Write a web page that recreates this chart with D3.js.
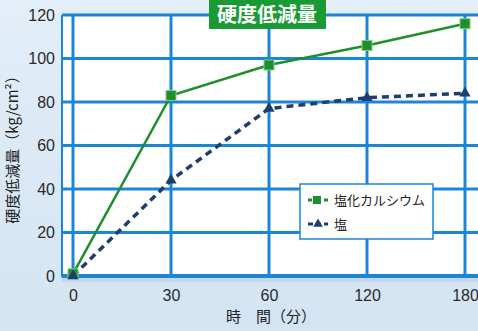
<!DOCTYPE html>
<html>
<head>
<meta charset="utf-8">
<script src="https://cdn.jsdelivr.net/npm/d3@7"></script>
<style>
  body { margin: 0; }
  svg { display: block; font-family: "Noto Sans CJK JP", "Noto Sans", sans-serif; }
</style>
</head>
<body>
<div id="container"></div>
<script>
/* CONSTANTS AND GLOBALS */
const width = 478, height = 331;
const margin = { top: 15, right: 0, bottom: 55, left: 62 };

/* DATA */
const times = ["0", "30", "60", "120", "180"];
const calcium = [1, 83, 97, 106, 116];
const salt = [0, 44, 77, 82, 84];
const yTicks = [0, 20, 40, 60, 80, 100, 120];
const seriesNames = ["塩化カルシウム", "塩"];

const svg = d3.select("#container").append("svg")
  .attr("width", width).attr("height", height);

// background
const defs = svg.append("defs");
const bg = defs.append("linearGradient").attr("id", "bg")
  .attr("x1", 0).attr("y1", 0).attr("x2", 0).attr("y2", 1);
bg.append("stop").attr("offset", "0%").attr("stop-color", "#e3eef8");
bg.append("stop").attr("offset", "100%").attr("stop-color", "#d3e4f3");
svg.append("rect").attr("width", width).attr("height", height).attr("fill", "url(#bg)");

// SCALES
const xScale = d3.scalePoint()
  .domain(times)
  .range([73, 465]);

const yScale = d3.scaleLinear()
  .domain([0, 120])
  .range([276, 15]);

// plot area (with soft shadow)
svg.append("rect")
  .attr("x", margin.left).attr("y", 15)
  .attr("width", width - margin.left).attr("height", 276 - 15 + 3)
  .attr("fill", "#b9cfe2").attr("opacity", 0.6)
  .attr("transform", "translate(0,3)");
svg.append("rect")
  .attr("x", margin.left).attr("y", 15)
  .attr("width", width - margin.left).attr("height", 276 - 15)
  .attr("fill", "#fff");

const gridColor = "#1b86d8";

// GRID
svg.append("g").selectAll("line.h")
  .data(yTicks)
  .join("line")
  .attr("x1", margin.left).attr("x2", width)
  .attr("y1", d => yScale(d)).attr("y2", d => yScale(d))
  .attr("stroke", gridColor)
  .attr("stroke-width", d => d === 0 ? 4 : 3);

svg.append("g").selectAll("line.v")
  .data(times)
  .join("line")
  .attr("x1", d => xScale(d)).attr("x2", d => xScale(d))
  .attr("y1", 15).attr("y2", 276)
  .attr("stroke", gridColor).attr("stroke-width", 3);

svg.append("line")
  .attr("x1", margin.left).attr("x2", margin.left)
  .attr("y1", 15).attr("y2", 277)
  .attr("stroke", gridColor).attr("stroke-width", 2);

// AXES
const yAxis = d3.axisLeft(yScale).tickValues(yTicks).tickSize(0).tickPadding(7);
const xAxis = d3.axisBottom(xScale).tickSize(0).tickPadding(14);

const gy = svg.append("g").attr("transform", `translate(${margin.left},0)`).call(yAxis);
const gx = svg.append("g").attr("transform", `translate(0,276)`).call(xAxis);
[gy, gx].forEach(g => {
  g.select(".domain").remove();
  g.selectAll("text")
    .attr("font-size", 16)
    .attr("font-family", "Liberation Sans, Arial, sans-serif")
    .attr("fill", "#2a2a2a");
});
gx.selectAll("text").attr("dy", "0.71em");

// LINES
const lineGen = d3.line()
  .x((d, i) => xScale(times[i]))
  .y(d => yScale(d));

svg.append("path")
  .datum(salt)
  .attr("d", lineGen)
  .attr("fill", "none")
  .attr("stroke", "#1c3f6e")
  .attr("stroke-width", 3.5)
  .attr("stroke-dasharray", "7,5");

svg.append("path")
  .datum(calcium)
  .attr("d", lineGen)
  .attr("fill", "none")
  .attr("stroke", "#1f8f2c")
  .attr("stroke-width", 2.5);

// MARKERS
svg.append("g").selectAll("rect")
  .data(calcium)
  .join("rect")
  .attr("x", (d, i) => xScale(times[i]) - 5)
  .attr("y", d => yScale(d) - 5)
  .attr("width", 10).attr("height", 10)
  .attr("fill", "#1f8f2c")
  .attr("stroke", "#7fcf7f").attr("stroke-width", 1);

const tri = d3.symbol().type(d3.symbolTriangle).size(55);
svg.append("g").selectAll("path")
  .data(salt)
  .join("path")
  .attr("d", tri)
  .attr("transform", (d, i) => `translate(${xScale(times[i])},${yScale(d)})`)
  .attr("fill", "#1c3f6e");

// LEGEND
const legend = svg.append("g").attr("transform", "translate(300,184)");
legend.append("rect")
  .attr("width", 133).attr("height", 55)
  .attr("fill", "#fff").attr("stroke", gridColor).attr("stroke-width", 1.5);

const legendItems = [
  { name: seriesNames[0], color: "#1f8f2c", dash: "4,4", marker: "square" },
  { name: seriesNames[1], color: "#1c3f6e", dash: "5,3", marker: "triangle" }
];
legendItems.forEach((d, i) => {
  const y = 16 + i * 24;
  const g = legend.append("g").attr("transform", `translate(0,${y})`);
  g.append("line")
    .attr("x1", 8).attr("x2", 28).attr("y1", 0).attr("y2", 0)
    .attr("stroke", d.color).attr("stroke-width", 3).attr("stroke-dasharray", d.dash);
  if (d.marker === "square") {
    g.append("rect").attr("x", 13).attr("y", -4).attr("width", 8).attr("height", 8)
      .attr("fill", d.color);
  } else {
    g.append("path").attr("d", d3.symbol().type(d3.symbolTriangle).size(40))
      .attr("transform", "translate(18,0)").attr("fill", d.color);
  }
  g.append("text")
    .attr("x", 34).attr("y", 0).attr("dy", "0.35em")
    .attr("font-size", 13).attr("fill", "#222")
    .text(d.name);
});

// TITLE BOX
svg.append("rect")
  .attr("x", 209).attr("y", 0).attr("width", 117).attr("height", 29)
  .attr("fill", "#1a9a35");
svg.append("text")
  .attr("x", 267).attr("y", 15).attr("dy", "0.36em")
  .attr("text-anchor", "middle")
  .attr("font-size", 20).attr("font-weight", "bold").attr("fill", "#fff")
  .text("硬度低減量");

// AXIS TITLES
svg.append("text")
  .attr("x", 271).attr("y", 322)
  .attr("text-anchor", "middle")
  .attr("font-size", 15).attr("fill", "#222")
  .text("時　間（分）");

svg.append("text")
  .attr("transform", "translate(13,146) rotate(-90)")
  .attr("text-anchor", "middle")
  .attr("dy", "0.35em")
  .attr("font-size", 15).attr("fill", "#222")
  .text("硬度低減量（kg/cm²）");
</script>
</body>
</html>
